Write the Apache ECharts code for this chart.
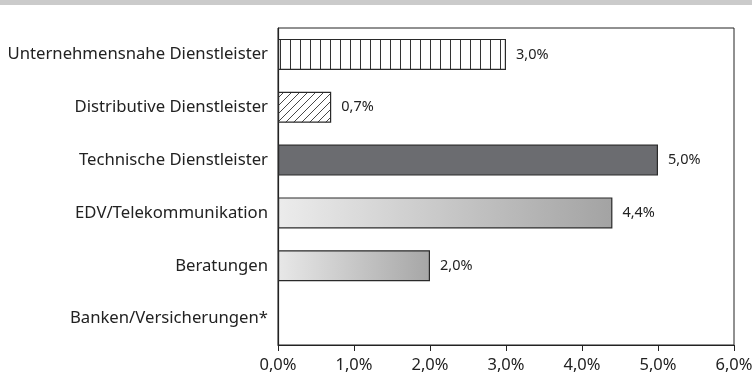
<!DOCTYPE html>
<html>
<head>
<meta charset="utf-8">
<script src="https://cdn.jsdelivr.net/npm/echarts@6/dist/echarts.min.js"></script>
<style>
  html, body { margin: 0; padding: 0; background: #fff; }
  #chart { width: 752px; height: 374px; }
</style>
</head>
<body>
<div id="chart"></div>
<script>
// Branchen und Werte (in Prozent)
const categories = [
  'Unternehmensnahe Dienstleister',
  'Distributive Dienstleister',
  'Technische Dienstleister',
  'EDV/Telekommunikation',
  'Beratungen',
  'Banken/Versicherungen*'
];
const values = [3.0, 0.7, 5.0, 4.4, 2.0, null];
const tickValues = [0, 1, 2, 3, 4, 5, 6];

const fmt = v => v.toFixed(1).replace('.', ',') + '%';

// Fill patterns drawn on small canvases
function stripePattern() {
  const c = document.createElement('canvas');
  c.width = 10; c.height = 10;
  const g = c.getContext('2d');
  g.fillStyle = '#fff'; g.fillRect(0, 0, 10, 10);
  g.strokeStyle = '#333'; g.lineWidth = 1;
  g.beginPath(); g.moveTo(0.5, 0); g.lineTo(0.5, 10); g.stroke();
  return { image: c, repeat: 'repeat' };
}
function hatchPattern() {
  const s = 8;
  const c = document.createElement('canvas');
  c.width = s; c.height = s;
  const g = c.getContext('2d');
  g.fillStyle = '#fff'; g.fillRect(0, 0, s, s);
  g.strokeStyle = '#333'; g.lineWidth = 0.9;
  g.beginPath();
  g.moveTo(0, s); g.lineTo(s, 0);
  g.moveTo(-s / 2, s / 2); g.lineTo(s / 2, -s / 2);
  g.moveTo(s / 2, s * 1.5); g.lineTo(s * 1.5, s / 2);
  g.stroke();
  return { image: c, repeat: 'repeat' };
}
function shade(from, to) {
  return {
    type: 'linear', x: 0, y: 0, x2: 1, y2: 0,
    colorStops: [{ offset: 0, color: from }, { offset: 1, color: to }]
  };
}

const fills = [
  stripePattern(),
  hatchPattern(),
  '#6b6c70',
  shade('#ececec', '#a3a3a3'),
  shade('#e8e8e8', '#a6a6a6'),
  '#ffffff'
];

const chart = echarts.init(document.getElementById('chart'), null, { renderer: 'canvas' });
const font = '"Noto Sans", "Open Sans", sans-serif';

chart.setOption({
  animation: false,
  graphic: [{
    type: 'rect', left: 0, top: 0,
    shape: { width: 752, height: 5 },
    style: { fill: '#cbcbcb' }, silent: true
  }],
  grid: {
    left: 278, right: 18, top: 28, bottom: 29,
    outerBoundsMode: 'none',
    show: true, borderColor: '#222', borderWidth: 1, backgroundColor: 'transparent'
  },
  xAxis: {
    type: 'value', min: tickValues[0], max: tickValues[tickValues.length - 1], interval: 1,
    axisLine: { show: true, lineStyle: { color: '#222', width: 1.2 } },
    axisTick: { show: true, length: 6, lineStyle: { color: '#222' } },
    splitLine: { show: false },
    axisLabel: {
      formatter: fmt, color: '#222', fontFamily: font, fontSize: 16.5, margin: 12
    }
  },
  yAxis: {
    type: 'category', data: categories, inverse: true,
    axisLine: { show: true, lineStyle: { color: '#222', width: 1.2 } },
    axisTick: { show: false },
    axisLabel: { color: '#222', fontFamily: font, fontSize: 16.7, margin: 10 }
  },
  series: [{
    type: 'bar',
    barWidth: 31,
    data: values.map((v, i) => ({
      value: v,
      itemStyle: { color: fills[i], borderColor: '#2a2a2a', borderWidth: 1.2 }
    })),
    label: {
      show: true, position: 'right', distance: 10,
      color: '#222', fontFamily: font, fontSize: 14.5,
      formatter: p => (p.value == null ? '' : fmt(p.value))
    }
  }]
});
</script>
</body>
</html>
